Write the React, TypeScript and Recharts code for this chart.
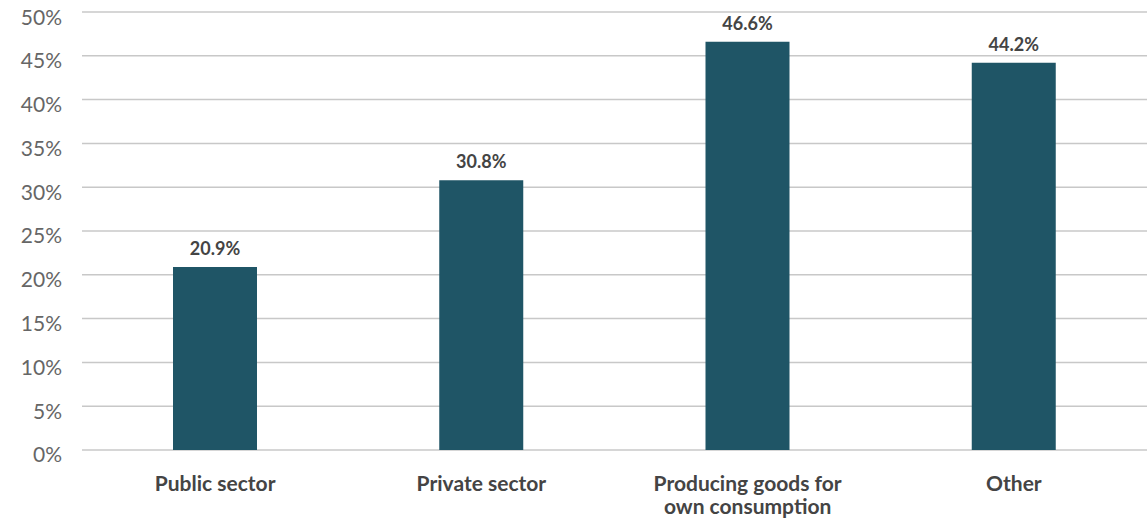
import { BarChart, Bar, XAxis, YAxis, CartesianGrid, LabelList } from 'recharts'

const categories = ['Public sector', 'Private sector', 'Producing goods for own consumption', 'Other']
const categoryLines = [['Public sector'], ['Private sector'], ['Producing goods for', 'own consumption'], ['Other']]
const shares = [20.9, 30.8, 46.6, 44.2]
const yTicks = [0, 5, 10, 15, 20, 25, 30, 35, 40, 45, 50]

const data = categories.map((name, i) => ({ name, value: shares[i] }))

const FONT = 'Lato, "Open Sans", sans-serif'

function CategoryTick(props: any) {
  const { x, y, payload } = props
  const idx = categories.indexOf(payload.value)
  const lines = categoryLines[idx] ?? [payload.value]
  return (
    <text x={x} y={y} textAnchor="middle" fontFamily={FONT} fontSize={21} fontWeight={700} fill="#444">
      {lines.map((l, i) => (
        <tspan key={i} x={x} dy={i === 0 ? 16 : 23}>
          {l}
        </tspan>
      ))}
    </text>
  )
}

export default function App() {
  return (
    <div style={{ position: 'absolute', left: 0, top: 0, background: '#fff' }}>
      <BarChart width={1147} height={521} data={data} margin={{ top: 12, right: 0, bottom: 0, left: 0 }}>
        <CartesianGrid vertical={false} stroke="#c8c8c8" strokeWidth={1.5} />
        <XAxis
          dataKey="name"
          height={71}
          axisLine={false}
          tickLine={false}
          tickSize={0}
          tickMargin={25}
          interval={0}
          tick={<CategoryTick />}
        />
        <YAxis
          width={82}
          domain={[0, 50]}
          ticks={yTicks}
          axisLine={false}
          tickLine={false}
          tickSize={0}
          tickMargin={20}
          tickFormatter={(v) => `${v}%`}
          tick={{ fontFamily: FONT, fontSize: 21, fill: '#666', dy: 5 }}
        />
        <Bar dataKey="value" fill="#1f5566" barSize={84} isAnimationActive={false}>
          <LabelList
            dataKey="value"
            position="top"
            offset={12}
            formatter={(v: any) => `${v}%`}
            style={{ fontFamily: FONT, fontSize: 18, fontWeight: 700, fill: '#444' }}
          />
        </Bar>
      </BarChart>
    </div>
  )
}
